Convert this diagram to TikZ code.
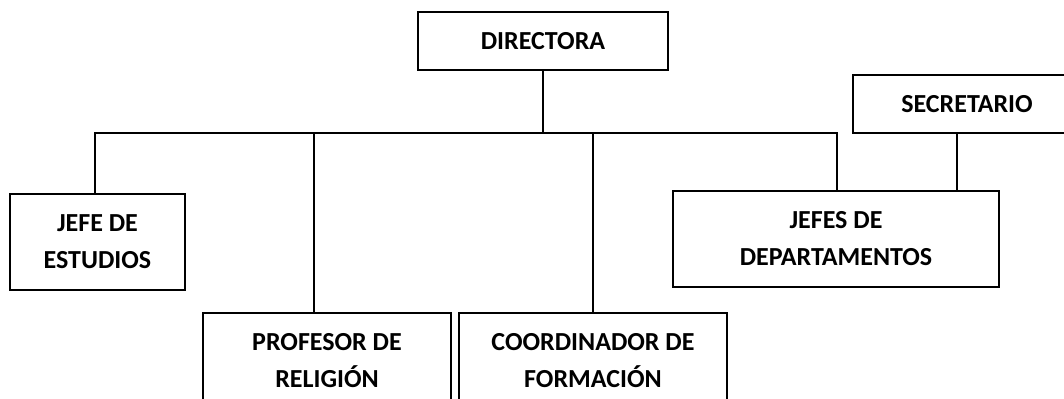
\documentclass[tikz,border=0pt]{standalone}
\usepackage{fontspec}
\setmainfont{Carlito}
\tikzset{
	cargo/.style={draw, line width=1.5pt, align=center, inner sep=0pt, font=\fontsize{19.5}{27.75}\selectfont\bfseries},
	linea/.style={line width=1.5pt}
}
\begin{document}
\begin{tikzpicture}[x=0.75pt, y=-0.75pt]
	\useasboundingbox (0,0) rectangle (1064,399);
	\node[cargo, minimum width=187.5pt, minimum height=43.5pt] (dir) at (543,41) {DIRECTORA};
	\node[cargo, minimum width=171pt, minimum height=43.5pt] (sec) at (967,104) {SECRETARIO};
	\node[cargo, minimum width=131.25pt, minimum height=72pt] (jefe) at (97.5,242) {JEFE DE\\ESTUDIOS};
	\node[cargo, minimum width=244.5pt, minimum height=72pt] (dept) at (836,239) {JEFES DE\\DEPARTAMENTOS};
	\node[cargo, minimum width=186pt, minimum height=72pt] (prof) at (327,361) {PROFESOR DE\\RELIGIÓN};
	\node[cargo, minimum width=201pt, minimum height=72pt] (coord) at (593,361) {COORDINADOR DE\\FORMACIÓN};
	\coordinate (bi) at (95,133); \coordinate (bd) at (837,133);
	\draw[linea] (dir.south) -- (dir.south |- bi);
	\draw[linea] (jefe.north -| bi) -- (bi) -- (bd) -- (dept.north -| bd);
	\draw[linea] ([xshift=-9.75pt]prof.north) -- ([xshift=-9.75pt]prof.north |- bi);
	\draw[linea] (coord.north) -- (coord.north |- bi);
	\draw[linea] ([xshift=-7.5pt]sec.south) -- ([xshift=-7.5pt]sec.south |- dept.north);
\end{tikzpicture}
\end{document}
